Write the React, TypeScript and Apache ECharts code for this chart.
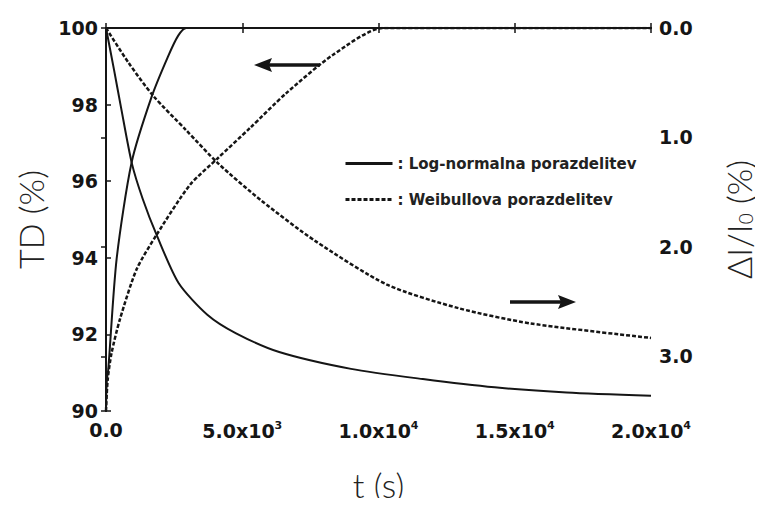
import React, { useEffect, useRef } from "react";
import * as echarts from "echarts";

// t (s), TD (%) — left axis
const tdLogNormal: number[][] = [
  [0, 90], [30, 90.8], [85, 91.1], [390, 93.97], [940, 96.49], [1673, 98.2],
  [2267, 99.24], [2650, 99.8], [2950, 100], [20000, 100],
];
const tdWeibull: number[][] = [
  [0, 90], [60, 90.8], [200, 91.5], [513, 92.4], [1123, 93.7], [1856, 94.6],
  [3077, 95.9], [4103, 96.6], [5300, 97.4], [6618, 98.3], [8332, 99.3],
  [10178, 100], [20000, 100],
];
// t (s), ΔI/I0 (%) — right axis (inverted)
const diLogNormal: number[][] = [
  [0, 0], [290, 0.376], [554, 0.73], [949, 1.237], [1345, 1.56], [1872, 1.9],
  [2663, 2.33], [3718, 2.62], [4773, 2.79], [6355, 2.961], [8992, 3.115],
  [11628, 3.208], [14265, 3.284], [16902, 3.331], [20000, 3.361],
];
const diWeibull: number[][] = [
  [0, 0], [818, 0.314], [1740, 0.622], [2927, 0.93], [4113, 1.237], [5695, 1.576],
  [7673, 1.945], [10310, 2.345], [12947, 2.561], [15583, 2.7], [20000, 2.832],
];

const legendNames = ["Log-normalna porazdelitev", "Weibullova porazdelitev"];
const xTickLabels: Record<number, string> = {
  0: "0.0",
  5000: "5.0x10{sup|3}",
  10000: "1.0x10{sup|4}",
  15000: "1.5x10{sup|4}",
  20000: "2.0x10{sup|4}",
};

const INK = "#151515";
const labelFont = { fontFamily: "DejaVu Sans", fontWeight: "bold" as const, fontSize: 19, color: INK };
const nameFont = { fontFamily: "Lato", fontWeight: 300 as any, fontSize: 34, color: "#222" };

export default function App() {
  const ref = useRef<HTMLDivElement>(null);
  useEffect(() => {
    if (!ref.current) return;
    const chart = echarts.init(ref.current, undefined, { renderer: "svg" });
    const axisLine = { show: true, lineStyle: { color: INK, width: 2 } };
    const tick = { show: true, inside: true, length: 5, lineStyle: { color: INK, width: 1.5 } };
    const solid = { color: INK, width: 2, type: "solid" as const };
    const dashed = { color: INK, width: 2.5, type: [4, 2] as any };
    const common = { type: "line", xAxisIndex: 0, symbol: "none", smooth: 0.25, itemStyle: { color: INK } };
    chart.setOption({
      animation: false,
      backgroundColor: "#fff",
      grid: { left: 106, right: 111, top: 28, bottom: 93, containLabel: false },
      legend: {
        orient: "vertical",
        left: 339,
        top: 151,
        itemWidth: 47,
        itemHeight: 14,
        itemGap: 21,
        data: legendNames,
        formatter: ": {name}",
        itemStyle: { opacity: 0 },
        lineStyle: { width: 3 },
        textStyle: { fontFamily: "DejaVu Sans", fontWeight: "bold", fontSize: 15, color: "#222" },
        selectedMode: false,
      },
      xAxis: [
        {
          type: "value",
          min: 0,
          max: 20000,
          interval: 5000,
          position: "bottom",
          name: "t (s)",
          nameLocation: "middle",
          nameGap: 56,
          nameTextStyle: nameFont,
          axisLine,
          axisTick: tick,
          splitLine: { show: false },
          axisLabel: {
            ...labelFont,
            margin: 9,
            formatter: (v: number) => xTickLabels[v] ?? "",
            rich: {
              sup: { fontFamily: "DejaVu Sans", fontWeight: "bold", fontSize: 11, color: INK, padding: [0, 0, 10, 0] },
            },
          },
        },
        {
          type: "value",
          min: 0,
          max: 20000,
          interval: 5000,
          position: "top",
          axisLine,
          axisTick: tick,
          axisLabel: { show: false },
          splitLine: { show: false },
        },
      ],
      yAxis: [
        {
          type: "value",
          min: 90,
          max: 100,
          interval: 2,
          position: "left",
          name: "TD (%)",
          nameLocation: "middle",
          nameGap: 56,
          nameRotate: 90,
          nameTextStyle: nameFont,
          axisLine,
          axisTick: tick,
          splitLine: { show: false },
          axisLabel: { ...labelFont, margin: 8 },
        },
        {
          type: "value",
          min: 0,
          max: 3.5,
          interval: 1,
          inverse: true,
          position: "right",
          name: "ΔI/I{sub|0} (%)",
          nameLocation: "middle",
          nameGap: 70,
          nameRotate: 90,
          nameTextStyle: {
            ...nameFont,
            rich: { sub: { fontFamily: "Lato", fontSize: 19, color: "#222", padding: [14, 0, 0, 0] } },
          },
          axisLine,
          axisTick: tick,
          splitLine: { show: false },
          axisLabel: {
            ...labelFont,
            margin: 8,
            formatter: (v: number) => (v === 3.5 ? "" : v.toFixed(1)),
          },
        },
      ],
      series: [
        { ...common, name: legendNames[0], yAxisIndex: 0, data: tdLogNormal, lineStyle: solid },
        { ...common, name: legendNames[1], yAxisIndex: 0, data: tdWeibull, lineStyle: dashed },
        { ...common, name: legendNames[0], yAxisIndex: 1, data: diLogNormal, lineStyle: solid },
        { ...common, name: legendNames[1], yAxisIndex: 1, data: diWeibull, lineStyle: dashed },
      ],
      graphic: [
        { type: "line", shape: { x1: 320, y1: 65, x2: 266, y2: 65 }, style: { stroke: INK, lineWidth: 3.5 } },
        { type: "polygon", shape: { points: [[254, 65], [272, 58], [269, 65], [272, 72]] }, style: { fill: INK } },
        { type: "line", shape: { x1: 510, y1: 302, x2: 564, y2: 302 }, style: { stroke: INK, lineWidth: 3.5 } },
        { type: "polygon", shape: { points: [[576, 302], [558, 295], [561, 302], [558, 309]] }, style: { fill: INK } },
      ],
    });
    return () => chart.dispose();
  }, []);
  return <div ref={ref} style={{ width: 763, height: 506, margin: -8 }} />;
}
